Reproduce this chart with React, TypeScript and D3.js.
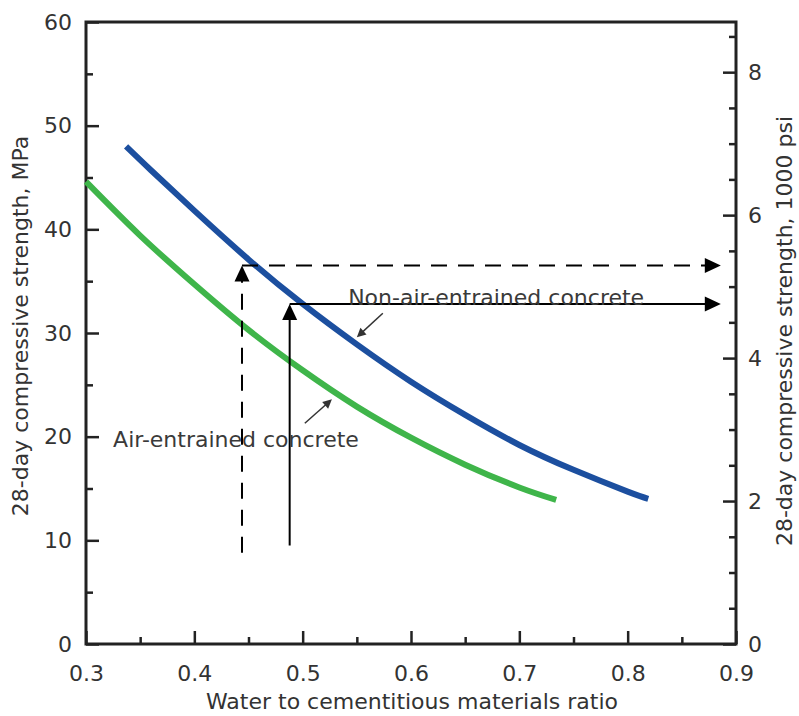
import React, { useEffect, useRef } from "react";
import * as d3 from "d3";

const W = 799;
const H = 716;

// non-air-entrained concrete (blue)
const nonAirRatio = [0.337, 0.36, 0.4, 0.45, 0.5, 0.55, 0.6, 0.65, 0.7, 0.75, 0.8, 0.819];
const nonAirMPa = [48, 45.7, 41.8, 37.1, 32.8, 28.9, 25.3, 22.1, 19.2, 16.8, 14.7, 14.0];

// air-entrained concrete (green)
const airRatio = [0.3, 0.35, 0.4, 0.45, 0.5, 0.55, 0.6, 0.65, 0.7, 0.734];
const airMPa = [44.6, 39.4, 34.7, 30.3, 26.4, 22.9, 19.9, 17.3, 15.1, 13.9];

const xTicks = [0.3, 0.4, 0.5, 0.6, 0.7, 0.8, 0.9];
const xMinor = [0.35, 0.45, 0.55, 0.65, 0.75, 0.85];
const mpaTicks = [0, 10, 20, 30, 40, 50, 60];
const mpaMinor = [5, 15, 25, 35, 45, 55];
const psiTicks = [0, 2, 4, 6, 8];
const psiMinor = [0.5, 1, 1.5, 2.5, 3, 3.5, 4.5, 5, 5.5, 6.5, 7, 7.5, 8.5];

// reading example arrows: [ratio, from MPa, to MPa]
const dashedArrow = [0.444, 8.8, 36.5];
const solidArrow = [0.488, 9.5, 32.8];
const arrowEndRatio = 0.886;

const MPA_PER_KSI = 6.895;
const FONT = "'DejaVu Sans', Arial, sans-serif";

function head(tx: number, ty: number, angle: number, len: number, half: number) {
  // triangle with tip at (tx,ty), pointing along angle
  const bx = tx - Math.cos(angle) * len;
  const by = ty - Math.sin(angle) * len;
  const px = -Math.sin(angle) * half;
  const py = Math.cos(angle) * half;
  return `M${tx},${ty}L${bx + px},${by + py}L${bx - px},${by - py}Z`;
}

export default function App() {
  const svgRef = useRef<SVGSVGElement>(null);

  useEffect(() => {
    const svg = d3.select(svgRef.current);
    svg.selectAll("*").remove();

    const x = d3.scaleLinear().domain([0.3, 0.9]).range([86, 736]);
    const y = d3.scaleLinear().domain([0, 60]).range([644, 22]);
    const yPsi = d3.scaleLinear().domain([0, 60 / MPA_PER_KSI]).range([644, 22]);

    const styleAxis = (g) => {
      g.select(".domain").remove();
      g.selectAll(".tick line").attr("stroke", "#222").attr("stroke-width", 2.5);
      g.selectAll(".tick text")
        .attr("fill", "#333")
        .style("font-family", FONT)
        .style("font-size", "22px");
    };

    // left axis
    svg.append("g").attr("transform", "translate(86,0)")
      .call(d3.axisLeft(y).tickValues(mpaTicks).tickSize(-13).tickPadding(14).tickFormat(d3.format("d")))
      .call(styleAxis);
    svg.append("g").attr("transform", "translate(86,0)")
      .call(d3.axisLeft(y).tickValues(mpaMinor).tickSize(-7).tickFormat(() => ""))
      .call(styleAxis);

    // bottom axis
    svg.append("g").attr("transform", "translate(0,644)")
      .call(d3.axisBottom(x).tickValues(xTicks).tickSize(-13).tickPadding(21).tickFormat(d3.format(".1f")))
      .call(styleAxis);
    svg.append("g").attr("transform", "translate(0,644)")
      .call(d3.axisBottom(x).tickValues(xMinor).tickSize(-7).tickFormat(() => ""))
      .call(styleAxis);

    // right axis (1000 psi)
    svg.append("g").attr("transform", "translate(736,0)")
      .call(d3.axisRight(yPsi).tickValues(psiTicks).tickSize(-13).tickPadding(12).tickFormat(d3.format("d")))
      .call(styleAxis);
    svg.append("g").attr("transform", "translate(736,0)")
      .call(d3.axisRight(yPsi).tickValues(psiMinor).tickSize(-7).tickFormat(() => ""))
      .call(styleAxis);

    // frame
    svg.append("rect")
      .attr("x", x(0.3)).attr("y", y(60))
      .attr("width", x(0.9) - x(0.3)).attr("height", y(0) - y(60))
      .attr("fill", "none").attr("stroke", "#222").attr("stroke-width", 3);

    // curves
    const lineGen = d3.line<[number, number]>()
      .x((d) => x(d[0]))
      .y((d) => y(d[1]))
      .curve(d3.curveNatural);

    svg.append("path")
      .datum(airRatio.map((r, i) => [r, airMPa[i]] as [number, number]))
      .attr("d", lineGen)
      .attr("fill", "none").attr("stroke", "#3fb54a").attr("stroke-width", 6);

    svg.append("path")
      .datum(nonAirRatio.map((r, i) => [r, nonAirMPa[i]] as [number, number]))
      .attr("d", lineGen)
      .attr("fill", "none").attr("stroke", "#1c4f9f").attr("stroke-width", 6);

    // reading arrows
    const drawReading = (a, dash) => {
      const [r, from, to] = a;
      const g = svg.append("g");
      g.append("path")
        .attr("d", `M${x(r)},${y(from)}V${y(to) + 12}`)
        .attr("stroke", "#000").attr("stroke-width", 2).attr("fill", "none")
        .attr("stroke-dasharray", dash);
      g.append("path")
        .attr("d", `M${x(r)},${y(to)}H${x(arrowEndRatio) - 12}`)
        .attr("stroke", "#000").attr("stroke-width", 2).attr("fill", "none")
        .attr("stroke-dasharray", dash);
      g.append("path").attr("d", head(x(r), y(to), -Math.PI / 2, 16, 7.5)).attr("fill", "#000");
      g.append("path").attr("d", head(x(arrowEndRatio), y(to), 0, 16, 7.5)).attr("fill", "#000");
    };
    drawReading(dashedArrow, "16,11");
    drawReading(solidArrow, null);

    // curve labels with small arrows
    const label = (txt, r, v) =>
      svg.append("text")
        .attr("x", x(r)).attr("y", y(v))
        .attr("fill", "#3a3a3a")
        .style("font-family", FONT).style("font-size", "22px")
        .text(txt);
    label("Non-air-entrained concrete", 0.542, 32.7);
    label("Air-entrained concrete", 0.325, 19.0);

    const pointer = (r0, v0, r1, v1) => {
      const ang = Math.atan2(y(v1) - y(v0), x(r1) - x(r0));
      svg.append("path")
        .attr("d", `M${x(r0)},${y(v0)}L${x(r1) - Math.cos(ang) * 6},${y(v1) - Math.sin(ang) * 6}`)
        .attr("stroke", "#333").attr("stroke-width", 1.5);
      svg.append("path").attr("d", head(x(r1), y(v1), ang, 9, 4.5)).attr("fill", "#333");
    };
    pointer(0.574, 31.9, 0.55, 29.6);
    pointer(0.502, 21.3, 0.527, 23.6);

    // axis titles
    svg.append("text")
      .attr("x", 412).attr("y", 709)
      .attr("text-anchor", "middle").attr("fill", "#333")
      .style("font-family", FONT).style("font-size", "22px")
      .text("Water to cementitious materials ratio");
    svg.append("text")
      .attr("transform", "translate(28,326) rotate(-90)")
      .attr("text-anchor", "middle").attr("fill", "#333")
      .style("font-family", FONT).style("font-size", "22px")
      .text("28-day compressive strength, MPa");
    svg.append("text")
      .attr("transform", "translate(792,331) rotate(-90)")
      .attr("text-anchor", "middle").attr("fill", "#333")
      .style("font-family", FONT).style("font-size", "22px")
      .text("28-day compressive strength, 1000 psi");
  }, []);

  return (
    <svg
      ref={svgRef}
      width={W}
      height={H}
      style={{ position: "absolute", left: 0, top: 0, background: "#fff" }}
    />
  );
}
